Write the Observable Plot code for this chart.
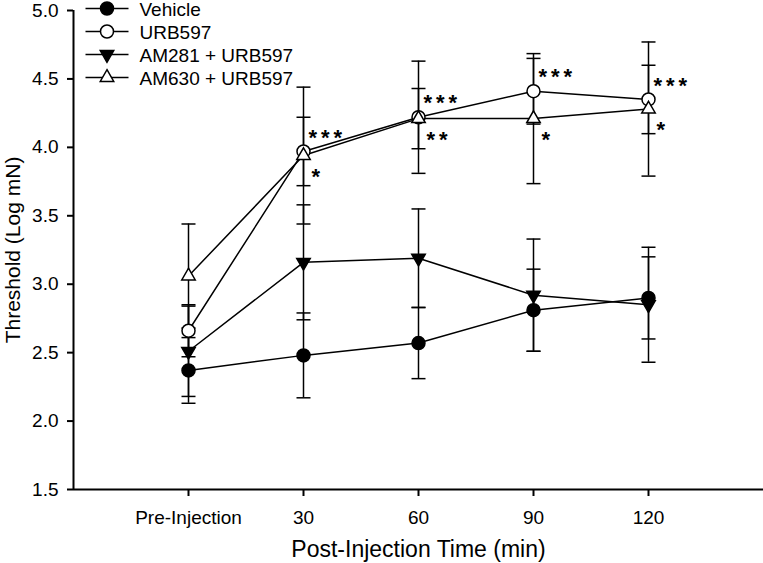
<!DOCTYPE html>
<html>
<head>
<meta charset="utf-8">
<script src="https://cdn.jsdelivr.net/npm/d3@7"></script>
<script src="https://cdn.jsdelivr.net/npm/@observablehq/plot@0.6"></script>
<style>
  html, body { margin: 0; padding: 0; background: #fff; }
  #chart { width: 763px; height: 563px; }
</style>
</head>
<body>
<div id="chart"></div>
<script>
// ---- data ----
const timeLabels = ["Pre-Injection", "30", "60", "90", "120"];
const timeIndex = [0, 1, 2, 3, 4];
const yTicks = [1.5, 2.0, 2.5, 3.0, 3.5, 4.0, 4.5, 5.0];

const seriesNames = ["Vehicle", "URB597", "AM281 + URB597", "AM630 + URB597"];
const vehicle   = [2.37, 2.48, 2.57, 2.81, 2.90];
const vehicleSE = [0.24, 0.31, 0.26, 0.30, 0.30];
const urb597    = [2.66, 3.97, 4.22, 4.41, 4.35];
const urb597SE  = [0.19, 0.25, 0.41, 0.24, 0.25];
const am281     = [2.51, 3.16, 3.19, 2.92, 2.85];
const am281SE   = [0.33, 0.42, 0.36, 0.41, 0.42];
const am630     = [3.06, 3.94, 4.21, 4.21, 4.28];
const am630SE   = [0.38, 0.50, 0.22, 0.475, 0.49];

// significance marks (URB597 above, AM630 + URB597 below), times 30..120
const starsAbove = ["***", "***", "***", "***"];
const starsBelow = ["*", "**", "*", "*"];

// ---- build tables ----
const styles = [
  {fill: "black", symbol: "circle", rotate: 0, r: 6.5},
  {fill: "white", symbol: "circle", rotate: 0, r: 6.5},
  {fill: "black", symbol: "triangle", rotate: 180, r: 5},
  {fill: "white", symbol: "triangle", rotate: 0, r: 5}
];
const values = [vehicle, urb597, am281, am630];
const ses = [vehicleSE, urb597SE, am281SE, am630SE];

const data = seriesNames.flatMap((name, s) =>
  timeIndex.map((t, i) => ({series: name, s, x: t, y: values[s][i], se: ses[s][i]}))
);

const aboveData = starsAbove.map((label, i) => ({x: timeIndex[i + 1], y: urb597[i + 1], label}));
const belowData = starsBelow.map((label, i) => ({x: timeIndex[i + 1], y: am630[i + 1], label}));

const legendData = seriesNames.map((name, s) => ({name, s}));

const capSymbol = {draw(ctx) { ctx.moveTo(-7, 0); ctx.lineTo(7, 0); }};
const legendLine = {draw(ctx) { ctx.moveTo(-21.5, 0); ctx.lineTo(21.5, 0); }};

const SW = 1.5;
const marks = [
  // axis lines
  Plot.ruleY([1.5], {stroke: "black", strokeWidth: 2}),
  Plot.ruleX([-1], {stroke: "black", strokeWidth: 2}),
  // error bars
  Plot.ruleX(data, {x: "x", y1: d => d.y - d.se, y2: d => d.y + d.se, stroke: "black", strokeWidth: SW}),
  Plot.dot(data, {x: "x", y: d => d.y + d.se, symbol: capSymbol, stroke: "black", strokeWidth: SW, fill: "none"}),
  Plot.dot(data, {x: "x", y: d => d.y - d.se, symbol: capSymbol, stroke: "black", strokeWidth: SW, fill: "none"}),
  // lines
  Plot.line(data, {x: "x", y: "y", z: "series", stroke: "black", strokeWidth: SW})
];
styles.forEach((st, s) => {
  marks.push(Plot.dot(data.filter(d => d.s === s), {
    x: "x", y: "y", symbol: st.symbol, r: st.r, rotate: st.rotate,
    fill: st.fill, stroke: "black", strokeWidth: SW
  }));
});
// significance asterisks
marks.push(Plot.text(aboveData, {x: "x", y: "y", text: "label", textAnchor: "start", dx: 5, dy: -14,
  fontSize: 22, fontWeight: "bold", fill: "black"}));
marks.push(Plot.text(belowData, {x: "x", y: "y", text: "label", textAnchor: "start", dx: 8, dy: 21,
  fontSize: 22, fontWeight: "bold", fill: "black"}));
// legend
legendData.forEach((d, s) => {
  const st = styles[s];
  const dy = -2 + s * 23;
  marks.push(Plot.dot([d], {frameAnchor: "top-left", dx: 33.5, dy, symbol: legendLine, stroke: "black", strokeWidth: SW, fill: "none"}));
  marks.push(Plot.dot([d], {frameAnchor: "top-left", dx: 33.5, dy, symbol: st.symbol, r: st.r, rotate: st.rotate, fill: st.fill, stroke: "black", strokeWidth: SW}));
  marks.push(Plot.text([d], {frameAnchor: "top-left", dx: 66, dy: dy + 1.5, text: "name", textAnchor: "start", lineAnchor: "middle", fontSize: 19, fill: "black"}));
});
// axis titles
marks.push(Plot.text(["Post-Injection Time (min)"], {frameAnchor: "bottom", dy: 60, textAnchor: "middle", lineAnchor: "middle", fontSize: 23, fill: "black"}));
marks.push(Plot.text(["Threshold (Log mN)"], {frameAnchor: "left", dx: -60, rotate: -90, textAnchor: "middle", lineAnchor: "middle", fontSize: 21, fill: "black"}));

const chart = Plot.plot({
  width: 763,
  height: 563,
  marginLeft: 73,
  marginRight: 0,
  marginTop: 10,
  marginBottom: 74,
  style: {fontFamily: "'Liberation Sans', Arial, sans-serif", fontSize: "19px", color: "black", background: "white"},
  x: {domain: [-1, 5], ticks: timeIndex, tickFormat: i => timeLabels[i], tickSize: 7, tickPadding: 14, label: null},
  y: {domain: [1.5, 5.0], ticks: yTicks, tickFormat: d3.format(".1f"), tickSize: 6, tickPadding: 9, label: null},
  marks
});
chart.querySelectorAll("text").forEach(t => {
  if (/^\*+$/.test(t.textContent.trim())) t.style.letterSpacing = "4px";
});
chart.querySelectorAll('g[aria-label="x-axis tick"], g[aria-label="y-axis tick"]').forEach(g => g.setAttribute("stroke-width", "2"));
document.getElementById("chart").appendChild(chart);
</script>
</body>
</html>
